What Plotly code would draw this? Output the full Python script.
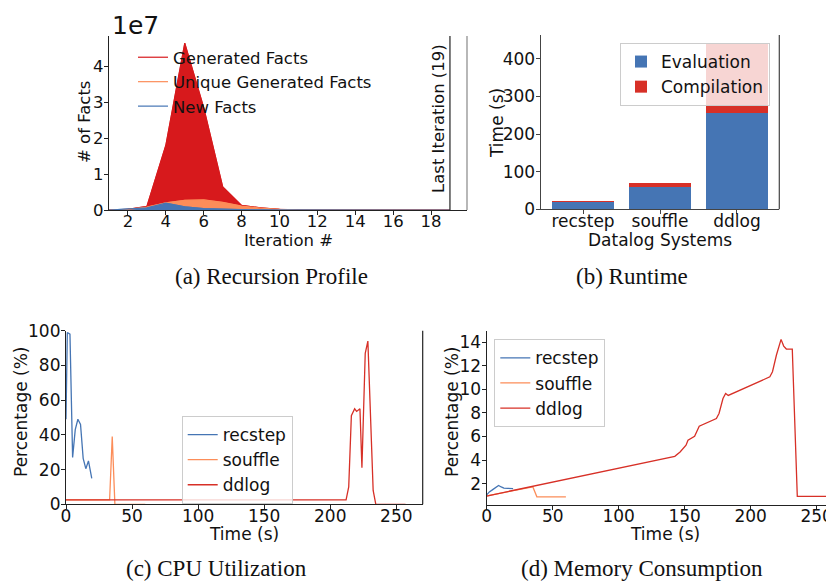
import plotly.graph_objects as go

# page body has an 8px margin, so the figure is sized to fill the rest of the window
OFF = 8
W, H = 834 - OFF, 581 - OFF

# ---------------- data ----------------
# (a) Recursion profile, values in units of 1e7 facts
iterations = list(range(1, 20))
generated_facts = [0.0, 0.02, 0.10, 1.80, 4.64, 2.85, 0.65, 0.13, 0.06, 0.02, 0.005, 0, 0, 0, 0, 0, 0, 0, 0]
unique_facts = [0.0, 0.02, 0.08, 0.20, 0.27, 0.28, 0.21, 0.11, 0.05, 0.015, 0.003, 0, 0, 0, 0, 0, 0, 0, 0]
new_facts = [0.0, 0.02, 0.06, 0.19, 0.09, 0.04, 0.02, 0.01, 0.005, 0.002, 0, 0, 0, 0, 0, 0, 0, 0, 0]
last_iteration = 19

# (b) Runtime
systems = ["recstep", "souffle", "ddlog"]
evaluation_time = [19.5, 60, 255]
compilation_time = [2.5, 11, 184]

# (c) CPU utilisation
recstep_cpu_t = [0, 1, 3, 5, 7, 9, 11, 13, 15, 17, 19.5]
recstep_cpu = [49, 99, 98, 27, 43, 49, 46, 26.5, 20.5, 25, 15]
souffle_cpu_t = [0, 33, 35, 37, 60]
souffle_cpu = [2.5, 2.5, 39, 0, 0]
ddlog_cpu_t = [0, 212, 214, 216, 218.5, 220, 222.5, 224, 226.5, 228.5, 232.5, 234.5, 257]
ddlog_cpu = [2.5, 2.5, 10, 51, 55, 53.5, 55, 21, 87, 94, 8, 0, 0]

# (d) Memory consumption
recstep_mem_t = [0, 2, 4, 6, 9, 11, 13, 16, 20]
recstep_mem = [1.05, 1.3, 1.45, 1.6, 1.85, 1.72, 1.62, 1.6, 1.58]
souffle_mem_t = [0, 35, 38, 60]
souffle_mem = [0.97, 1.72, 0.88, 0.88]
ddlog_mem_t = [0, 142.5, 146.5, 151, 152.5, 157.5, 159, 161, 174, 176, 179, 181, 183,
               214.5, 216.5, 219.5, 223, 225, 227, 231.5, 235.3, 257.5]
ddlog_mem = [0.95, 4.32, 4.69, 5.26, 5.69, 6.03, 6.39, 6.88, 7.53, 7.96, 9.23, 9.66, 9.49,
             11.07, 11.5, 12.92, 14.25, 13.68, 13.43, 13.43, 0.92, 0.92]

# ---------------- style ----------------
RED = "#d7191c"
ORANGE = "#fc8d59"
BLUE = "#4575b4"
RED2 = "#d73027"
SANS = "DejaVu Sans"
SERIF = "Liberation Serif"
TXT = "#111111"


def px_x(p):
    return (p - OFF) / W


def px_y(p):
    return 1 - (p - OFF) / H


fig = go.Figure()

# ---- (a) ----
for vals, col in [(generated_facts, RED), (unique_facts, ORANGE), (new_facts, BLUE)]:
    fig.add_trace(go.Scatter(x=iterations, y=vals, mode="lines", fill="tozeroy",
                             fillcolor=col, line=dict(color=col, width=0.8),
                             showlegend=False, hoverinfo="skip", xaxis="x", yaxis="y"))
for name, vals, col in [("Generated Facts", generated_facts, RED),
                        ("Unique Generated Facts", unique_facts, ORANGE),
                        ("New Facts", new_facts, BLUE)]:
    fig.add_trace(go.Scatter(x=iterations, y=vals, mode="lines", name=name,
                             line=dict(color=col, width=1.2), legend="legend",
                             legendgroup=name, xaxis="x", yaxis="y"))

# ---- (b) ----
fig.add_trace(go.Bar(x=systems, y=evaluation_time, name="Evaluation", marker_color=BLUE,
                     marker_line_width=0, legend="legend2", xaxis="x2", yaxis="y2",
                     legendgroup="ev"))
fig.add_trace(go.Bar(x=systems, y=compilation_time, name="Compilation", marker_color=RED2,
                     marker_line_width=0, legend="legend2", xaxis="x2", yaxis="y2",
                     legendgroup="co"))

# ---- (c) ----
for name, t, v, col in [("recstep", recstep_cpu_t, recstep_cpu, BLUE),
                        ("souffle", souffle_cpu_t, souffle_cpu, ORANGE),
                        ("ddlog", ddlog_cpu_t, ddlog_cpu, RED2)]:
    fig.add_trace(go.Scatter(x=t, y=v, mode="lines", name=name, line=dict(color=col, width=1.3),
                             legend="legend3", legendgroup="c" + name, xaxis="x3", yaxis="y3"))

# ---- (d) ----
for name, t, v, col in [("recstep", recstep_mem_t, recstep_mem, BLUE),
                        ("souffle", souffle_mem_t, souffle_mem, ORANGE),
                        ("ddlog", ddlog_mem_t, ddlog_mem, RED2)]:
    fig.add_trace(go.Scatter(x=t, y=v, mode="lines", name=name, line=dict(color=col, width=1.3),
                             legend="legend4", legendgroup="d" + name, xaxis="x4", yaxis="y4"))


def axis(domain_px, rng, fsize, spine="#222", standoff=0, **kw):
    d = dict(domain=domain_px, range=rng, showgrid=False, zeroline=False, showline=True,
             linecolor=spine, linewidth=1.2, ticks="outside", ticklen=4, tickwidth=1,
             tickcolor=spine, automargin=False, ticklabelstandoff=standoff,
             tickfont=dict(family=SANS, size=fsize, color=TXT))
    d.update(kw)
    return d


layout = dict(template="none", width=W, height=H, margin=dict(l=0, r=0, t=0, b=0, pad=0),
              paper_bgcolor="white", plot_bgcolor="rgba(0,0,0,0)", barmode="stack",
              bargap=0.2, font=dict(family=SANS, color=TXT))

XS, YS = -8, -3
# axes (a)
layout["xaxis"] = axis([px_x(109), px_x(467)], [1, 19.9], 16.5, standoff=XS,
                       tickvals=list(range(2, 19, 2)), anchor="y")
layout["yaxis"] = axis([px_y(210), px_y(36)], [0, 4.84], 16.5, standoff=YS,
                       tickvals=[0, 1, 2, 3, 4], anchor="x")
# axes (b)
layout["xaxis2"] = axis([px_x(540.7), px_x(779.3)], [-0.55, 2.55], 17, spine="#444", standoff=XS,
                        type="category", anchor="y2")
layout["yaxis2"] = axis([px_y(209.3), px_y(35)], [0, 463], 17, spine="#444", standoff=YS,
                        tickvals=[0, 100, 200, 300, 400], anchor="x2")
# axes (c)
layout["xaxis3"] = axis([px_x(66), px_x(422.7)], [0, 270], 17, standoff=XS,
                        tickvals=[0, 50, 100, 150, 200, 250], anchor="y3")
layout["yaxis3"] = axis([px_y(504.3), px_y(330.7)], [0, 100], 17, standoff=YS,
                        tickvals=[0, 20, 40, 60, 80, 100], anchor="x3")
# axes (d)
layout["xaxis4"] = axis([px_x(486.7), 1.0], [0, (834 - 486.7) / 1.32], 17, standoff=XS,
                        tickvals=[0, 50, 100, 150, 200, 250], anchor="y4")
layout["yaxis4"] = axis([px_y(504.5), px_y(330.9)], [0.23, 14.97], 17, standoff=YS,
                        tickvals=[2, 4, 6, 8, 10, 12, 14], anchor="x4")

layout["legend"] = dict(x=px_x(133), y=px_y(40), xanchor="left", yanchor="top",
                        bgcolor="rgba(0,0,0,0)", borderwidth=0, tracegroupgap=0,
                        font=dict(family=SANS, size=16.5, color=TXT))
layout["legend2"] = dict(x=px_x(770), y=px_y(43), xanchor="right", yanchor="top",
                         bgcolor="rgba(255,255,255,0.8)", bordercolor="#cccccc", borderwidth=1,
                         tracegroupgap=0, font=dict(family=SANS, size=17, color=TXT))
layout["legend3"] = dict(x=px_x(181.7), y=px_y(416), xanchor="left", yanchor="top",
                         bgcolor="rgba(255,255,255,0.8)", bordercolor="#cccccc", borderwidth=1,
                         tracegroupgap=0, font=dict(family=SANS, size=17, color=TXT))
layout["legend4"] = dict(x=px_x(494.3), y=px_y(339.3), xanchor="left", yanchor="top",
                         bgcolor="rgba(255,255,255,0.8)", bordercolor="#cccccc", borderwidth=1,
                         tracegroupgap=0, font=dict(family=SANS, size=17, color=TXT))

fig.update_layout(**layout)

# reference lines: last iteration and right spines
fig.add_shape(type="line", xref="x", yref="paper", x0=last_iteration, x1=last_iteration,
              y0=px_y(210), y1=px_y(36), line=dict(color="#333333", width=1.3))
for xr, yb, yt, col in [(467, 210, 36, "#888888"), (779.3, 209.3, 35, "#444444"),
                        (422.7, 504.3, 330.7, "#222222")]:
    fig.add_shape(type="line", xref="paper", yref="paper", x0=px_x(xr), x1=px_x(xr),
                  y0=px_y(yb), y1=px_y(yt), line=dict(color=col, width=1.2))


def note(text, x, y, size, family=SANS, angle=0, xanchor="center", yanchor="middle"):
    fig.add_annotation(text=text, x=px_x(x), y=px_y(y), xref="paper", yref="paper",
                       showarrow=False, textangle=angle, xanchor=xanchor, yanchor=yanchor,
                       font=dict(family=family, size=size, color=TXT))


# offset text and labels
note("1e7", 110, 25, 25, xanchor="left")
note("Last Iteration (19)", 438, 119, 16.5, angle=-90)
note("# of Facts", 84, 122, 16.5, angle=-90)
note("Iteration #", 288, 240, 16.5)
note("Time (s)", 497, 123, 17, angle=-90)
note("Datalog Systems", 660, 240, 17)
note("Percentage (%)", 21, 412, 17, angle=-90)
note("Time (s)", 244, 534, 17)
note("Percentage (%)", 452, 412, 17, angle=-90)
note("Time (s)", 665, 534, 17)

# captions
note("(a) Recursion Profile", 271, 276, 23, family=SERIF)
note("(b) Runtime", 632, 276, 23, family=SERIF)
note("(c) CPU Utilization", 216, 568, 23, family=SERIF)
note("(d) Memory Consumption", 642, 568, 23, family=SERIF)

fig.write_html("out.html")
